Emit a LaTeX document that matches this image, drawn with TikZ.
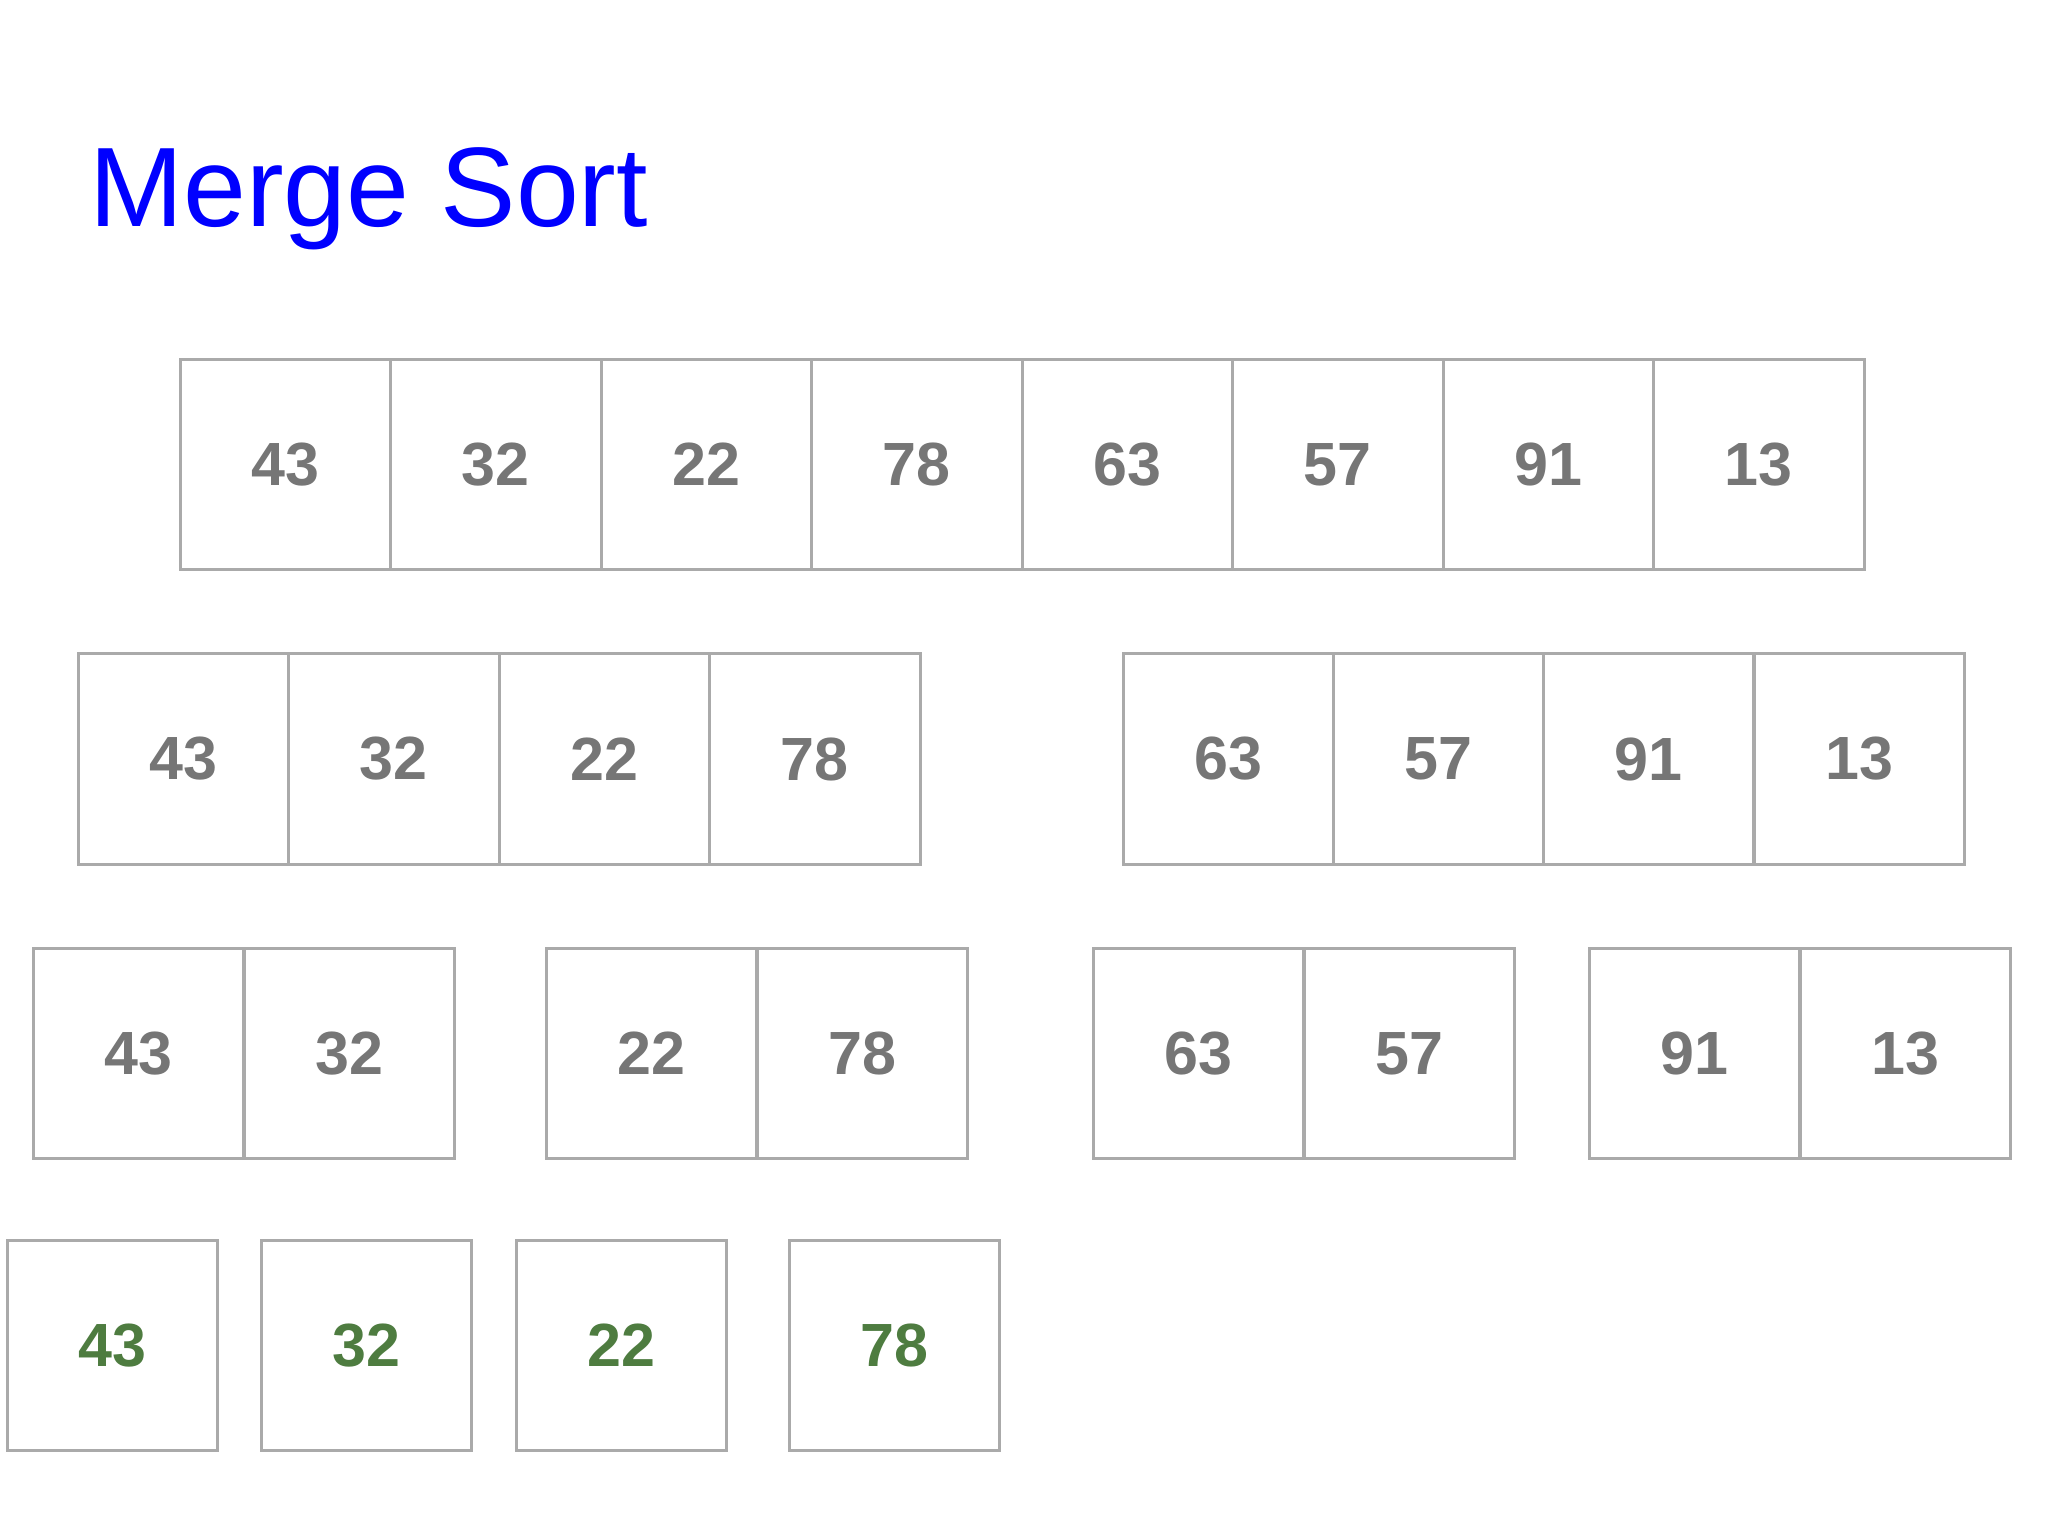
\documentclass[tikz,border=0pt]{standalone}
\usepackage{fontspec}
\setmainfont{Liberation Sans}
\definecolor{titleblue}{RGB}{0,0,255}
\definecolor{cellgray}{RGB}{118,118,118}
\definecolor{bordergray}{RGB}{170,170,170}
\definecolor{leafgreen}{RGB}{78,124,64}
\begin{document}
\begin{tikzpicture}[x=1pt,y=-1pt,
  cellbox/.style={draw=bordergray, line width=3pt, minimum width=210.5pt, minimum height=210.5pt, inner sep=0pt,
    font=\fontsize{61}{61}\selectfont\bfseries, text=cellgray},
  leafbox/.style={cellbox, text=leafgreen}]
\useasboundingbox[fill=white] (0,0) rectangle (2048,1536);
\node[anchor=base west, inner sep=0pt, text=titleblue, font=\fontsize{113}{113}\selectfont] (title) at (89,226) {Merge Sort};
% Row 1
\foreach \v [count=\i] in {43,32,22,78,63,57,91,13} {
  \node[cellbox] (a\i) at ({180+105.25+(\i-1)*210.5},464.5) {\v};
}
% Row 2
\foreach \v [count=\i] in {43,32,22,78} {
  \node[cellbox] (b\i) at ({78+105.25+(\i-1)*210.5},759) {\v};
}
\foreach \v [count=\i from 5] in {63,57,91,13} {
  \node[cellbox] (b\i) at ({1123+105.25+(\i-5)*210.25},759) {\v};
}
% Row 3
\node[cellbox] (c1) at (138.5,1053.5) {43};
\node[cellbox] (c2) at (349.5,1053.5) {32};
\node[cellbox] (c3) at (651.5,1053.5) {22};
\node[cellbox] (c4) at (862.5,1053.5) {78};
\node[cellbox] (c5) at (1198.5,1053.5) {63};
\node[cellbox] (c6) at (1409.5,1053.5) {57};
\node[cellbox] (c7) at (1694.5,1053.5) {91};
\node[cellbox] (c8) at (1905.5,1053.5) {13};
% Row 4
\node[leafbox] (d1) at (112.5,1345.5) {43};
\node[leafbox] (d2) at (366.5,1345.5) {32};
\node[leafbox] (d3) at (621.5,1345.5) {22};
\node[leafbox] (d4) at (894.5,1345.5) {78};
\end{tikzpicture}
\end{document}
